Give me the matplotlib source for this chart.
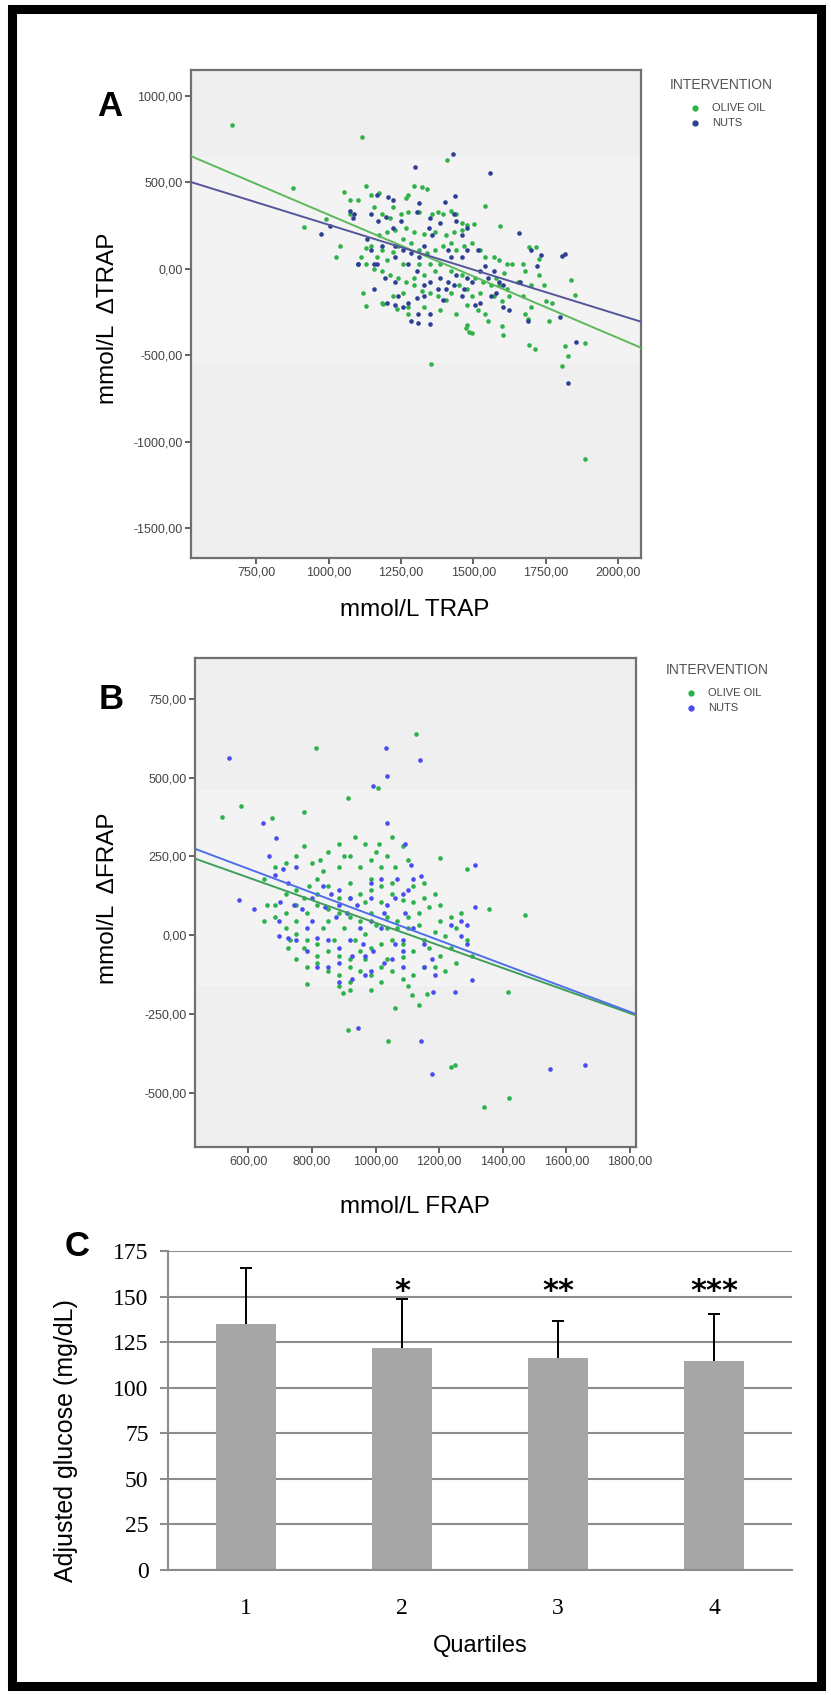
import numpy as np
import matplotlib.pyplot as plt
from matplotlib.lines import Line2D
from matplotlib.patches import Rectangle

# ---- datos: panel A (TRAP basal vs cambio) ----
trap_olive = np.array([
    (665, 830), (1115, 760), (1410, 630), (875, 465), (1053, 444), (913, 242), (1025, 69),
    (1120, -137), (1130, -215), (1188, -202), (1236, -231), (1354, -553), (1475, -342),
    (1484, -363), (1603, -384), (1693, -441), (1713, -466), (1808, -559), (1826, -503),
    (1885, -1100), (1886, -429), (1838, -64), (1851, -153), (1717, 125), (1693, 125),
    (1539, 362), (1594, 250), (1726, 55), (1752, -188), (1763, -301), (1689, -291),
    (1817, -446), (1038, 131), (1111, 69), (1075, 316), (992, 286),
    (1075, 399), (1102, 399), (1130, 481), (1148, 430), (1175, 440), (1157, 358), (1185, 316),
    (1212, 296), (1221, 358), (1249, 316), (1267, 409), (1276, 430), (1295, 481), (1322, 471),
    (1341, 461), (1273, 327), (1313, 327), (1359, 316), (1377, 327), (1396, 316), (1423, 337),
    (1441, 316), (1460, 265), (1478, 255), (1502, 259), (1460, 224), (1432, 213), (1405, 193),
    (1368, 213), (1331, 203), (1295, 213), (1267, 234), (1230, 224), (1203, 213), (1175, 193),
    (1148, 131), (1130, 121), (1185, 110), (1221, 100), (1240, 131), (1258, 172), (1286, 152),
    (1313, 110), (1341, 90), (1368, 110), (1396, 131), (1423, 152), (1441, 110), (1469, 131),
    (1497, 152), (1524, 110), (1542, 69), (1570, 69), (1588, 49), (1616, 28), (1634, 28),
    (1607, -23), (1579, -54), (1561, -95), (1588, -95), (1616, -116), (1625, -157), (1598, -188),
    (1570, -157), (1524, -137), (1497, -157), (1478, -116), (1451, -95), (1423, -137),
    (1405, -178), (1377, -157), (1350, -137), (1322, -126), (1295, -95), (1267, -75),
    (1240, -54), (1212, -34), (1185, -13), (1157, -3), (1130, 28), (1166, 69), (1203, 49),
    (1258, 28), (1313, 28), (1350, 28), (1386, 28), (1368, -13), (1331, -34), (1295, -54),
    (1423, -13), (1460, -34), (1506, -54), (1533, -75), (1258, -137), (1221, -157),
    (1185, -198), (1276, -219), (1331, -219), (1386, -240), (1441, -260), (1515, -240),
    (1542, -260), (1552, -301), (1478, -208), (1276, -260), (1478, -322), (1497, -373),
    (1598, -332), (1653, -75), (1671, -157), (1698, -95), (1680, -13), (1671, 28),
    (1726, -34), (1744, -95), (1772, -198), (1698, -219), (1680, -260),
])
trap_nuts = np.array([
    (1429, 666), (1297, 588), (1557, 557), (974, 203), (1006, 246), (1089, 316), (1133, 172),
    (1102, 28), (1308, -312), (1350, -316), (1658, 207), (1817, 84), (1808, 73), (1799, -281),
    (1854, -421), (1827, -662), (1436, 419), (1401, 388), (1166, 430), (1204, 415),
    (1075, 337), (1084, 296), (1148, 316), (1170, 275), (1199, 300), (1221, 234), (1249, 275),
    (1304, 327), (1346, 234), (1359, 193), (1386, 265), (1432, 316), (1441, 275), (1414, 110),
    (1423, 69), (1460, 69), (1478, 110), (1331, 131), (1313, 69), (1286, 90), (1258, 110),
    (1230, 131), (1185, 131), (1148, 110), (1166, 28), (1230, 69), (1276, 28), (1304, -13),
    (1331, -95), (1350, -75), (1386, -54), (1414, -75), (1441, -34), (1469, -116), (1497, -75),
    (1524, -13), (1542, 18), (1570, -13), (1588, -75), (1579, -137), (1561, -157), (1524, -198),
    (1506, -208), (1460, -157), (1432, -95), (1405, -116), (1377, -116), (1331, -157),
    (1304, -167), (1276, -198), (1240, -157), (1230, -208), (1258, -219), (1203, -198),
    (1230, -75), (1194, -54), (1157, -116), (1157, 28), (1102, 28), (1662, -75), (1698, 110),
    (1735, 80), (1722, 18), (1689, -301), (1625, -240), (1603, -219), (1309, -260),
    (1286, -301), (1350, -260), (1396, -178), (1478, -54), (1552, -54), (1603, -95),
    (1515, 110), (1460, 193), (1478, 234), (1350, 296), (1313, 378), (1221, 399),
])
# rectas de regresion (intercepto, pendiente)
trap_fit_olive = (1025, -0.712)
trap_fit_nuts = (774, -0.519)

# ---- datos: panel B (FRAP basal vs cambio) ----
frap_olive = np.array([
    (1127, 640), (812, 594), (1006, 466), (913, 434), (576, 410), (516, 374), (675, 371),
    (775, 390), (1203, 246), (1286, 210), (1358, 84), (1470, 63), (1417, -180), (1060, -233),
    (1135, -223), (914, -302), (1038, -337), (1236, -418), (1249, -412), (1340, -546),
    (1420, -516), (784, -154), (898, -184), (918, -174), (1115, -190), (1161, -187),
    (650, 179), (683, 216), (717, 228), (750, 252), (775, 283), (800, 228), (826, 240),
    (851, 265), (884, 289), (918, 252), (935, 313), (968, 289), (985, 240), (1010, 289),
    (1052, 313), (1085, 283), (1018, 216), (1060, 216), (1102, 240),
    (717, 130), (750, 143), (775, 118), (817, 130), (851, 155), (884, 118), (918, 118),
    (951, 130), (985, 143), (1018, 155), (1052, 130), (1085, 112), (1119, 106), (1152, 118),
    (1186, 130), (1169, 88), (1135, 70), (1102, 57), (1068, 45), (1035, 57), (985, 70),
    (951, 45), (918, 57), (884, 70), (851, 82), (817, 94), (784, 70), (750, 45), (717, 70),
    (683, 57), (650, 45),
    (717, 21), (750, 3), (784, -16), (817, -28), (851, -52), (884, -65), (918, -77), (951, -52),
    (985, -40), (1018, -28), (1052, -16), (1085, -28), (1119, -52), (1152, -16), (1186, 9),
    (1219, -4), (1253, 21), (1286, -16), (1303, -65), (1253, -89), (1219, -113), (1186, -101),
    (1152, -101), (1119, -126), (1085, -138), (1052, -113), (1018, -101), (985, -126),
    (951, -113), (918, -101), (884, -126), (851, -113), (817, -89), (784, -101), (750, -77),
    (725, -40), (730, -16), (775, -40), (834, 21), (868, -16), (901, 21), (935, -16), (968, 3),
    (1002, 33), (1035, 21), (1068, 21), (1102, 21), (1135, 33), (1203, 45), (1236, 57),
    (1270, 70), (918, -150), (985, -174), (884, -162), (1018, -150), (1102, -162), (1169, -40),
    (1203, -65), (1236, -40), (1085, -71), (1035, -77), (968, -77), (817, -65), (851, 45),
    (683, 94), (658, 94),
    (817, 179), (884, 216), (951, 216), (985, 179), (1052, 167), (918, 167), (1119, 155),
    (1152, 167), (1203, 94), (968, 106), (1018, 106), (750, 94), (792, 155), (834, 204),
    (901, 252), (1035, 252), (1002, 265),
])
frap_nuts = np.array([
    (539, 561), (1032, 594), (1139, 555), (1035, 506), (993, 472), (645, 357), (687, 308),
    (1035, 355), (666, 250), (569, 112), (616, 84), (695, -4), (1313, 224), (1313, 90),
    (1303, -142), (1251, -180), (1182, -180), (946, -294), (1142, -337), (1177, -440),
    (1549, -426), (1660, -413), (1094, 289), (1110, 222), (1144, 189),
    (683, 191), (708, 210), (750, 216), (725, 167), (700, 106), (742, 94), (767, 82),
    (800, 118), (834, 155), (859, 130), (884, 143), (918, 118), (842, 88), (876, 57),
    (909, 70), (943, 94), (985, 118), (1027, 70), (1060, 118), (1085, 130), (1094, 70),
    (1018, 21), (985, 45), (951, 21), (918, -16), (884, -40), (851, -16), (817, -10),
    (784, 21), (750, -16), (817, -101), (851, -101), (884, -89), (926, -65), (960, -28),
    (993, -52), (1027, -89), (1060, -28), (1085, -16), (1119, 21), (1152, -28), (1177, -77),
    (1186, -126), (1152, -101), (1085, -52), (1052, -77), (985, -113), (926, -138),
    (968, -65), (725, -10), (697, 45), (800, 45), (884, 94), (985, 167), (1018, 179),
    (1068, 179), (1102, 143), (1119, 179), (1035, 94), (1286, -28), (1270, -4), (1236, 33),
    (1270, 45), (1286, 33), (884, -150), (968, -126), (1085, -101), (784, -52),
])
frap_fit_olive = (398, -0.359)
frap_fit_nuts = (437.5, -0.3785)

# ---- datos: panel C (glucosa por cuartiles) ----
quartiles = [1, 2, 3, 4]
glucose_mean = [135, 121.6, 116.5, 114.6]
glucose_err = [30.4, 26.8, 20.2, 25.6]
significance = ['', '*', '**', '***']

W, H = 831, 1695
fig = plt.figure(figsize=(W / 100, H / 100), dpi=100)


def caja(l, t, r, b):
    """rectangulo en pixeles -> coordenadas de figura"""
    return [l / W, 1 - b / H, (r - l) / W, (b - t) / H]


def texto(x, y, s, **kw):
    fig.text(x / W, 1 - y / H, s, **kw)


def estilo_spss(ax, xticks, yticks):
    ax.set_facecolor('#efefef')
    for sp in ax.spines.values():
        sp.set_color('#707070')
        sp.set_linewidth(1.6)
    ax.set_xticks(xticks)
    ax.set_yticks(yticks)
    ax.set_xticklabels([f'{v:.2f}'.replace('.', ',') for v in xticks])
    ax.set_yticklabels([f'{v:.2f}'.replace('.', ',') for v in yticks])
    ax.tick_params(direction='out', length=4, width=1.3, color='#555555',
                   labelsize=9, labelcolor='#444444', pad=2)
    for lab in ax.get_xticklabels() + ax.get_yticklabels():
        lab.set_fontfamily('Liberation Sans')


def leyenda(x, y, c_olive, c_nuts):
    texto(x, y, 'INTERVENTION', fontsize=10, color='#555555',
          family='Liberation Sans', va='center')
    for dy, c, lab in [(23, c_olive, 'OLIVE OIL'), (38, c_nuts, 'NUTS')]:
        fig.add_artist(Line2D([(x + 25) / W], [1 - (y + dy) / H], marker='o',
                              markersize=3.5, color=c, transform=fig.transFigure))
        texto(x + 42, y + dy, lab, fontsize=8, color='#444444',
              family='Liberation Sans', va='center')


# ---------------- Panel A ----------------
axA = fig.add_axes(caja(191, 70, 641, 558))
estilo_spss(axA, [750, 1000, 1250, 1500, 1750, 2000], [-1500, -1000, -500, 0, 500, 1000])
axA.set_xlim(524, 2080)
axA.set_ylim(-1672, 1150)
axA.axhspan(-547, 648, color='white', alpha=0.3, zorder=0.5, lw=0)
green_a, blue_a = '#2fb24a', '#2d3f92'
axA.scatter(trap_olive[:, 0], trap_olive[:, 1], s=11, color=green_a, lw=0, zorder=2)
axA.scatter(trap_nuts[:, 0], trap_nuts[:, 1], s=11, color=blue_a, lw=0, zorder=2)
xx = np.array(axA.get_xlim())
axA.plot(xx, trap_fit_olive[0] + trap_fit_olive[1] * xx, color='#5cb85c', lw=1.4, zorder=3)
axA.plot(xx, trap_fit_nuts[0] + trap_fit_nuts[1] * xx, color='#55569a', lw=1.4, zorder=3)
axA.set_xlim(524, 2080)
texto(110, 106, 'A', fontsize=25, fontweight='bold', family='Liberation Sans',
      ha='center', va='center')
texto(108, 318, 'mmol/L  \u0394TRAP', fontsize=17.5, rotation=90, family='Liberation Sans',
      ha='center', va='center')
texto(415, 610, 'mmol/L TRAP', fontsize=17.5, family='Liberation Sans',
      ha='center', va='center')
leyenda(670, 85, green_a, blue_a)

# ---------------- Panel B ----------------
axB = fig.add_axes(caja(195, 658, 636, 1147))
estilo_spss(axB, [600, 800, 1000, 1200, 1400, 1600, 1800], [-500, -250, 0, 250, 500, 750])
axB.set_xlim(432, 1819)
axB.set_ylim(-673, 880)
axB.axhspan(-161, 460, color='white', alpha=0.25, zorder=0.5, lw=0)
green_b, blue_b = '#2bb24c', '#4b4cf0'
axB.scatter(frap_olive[:, 0], frap_olive[:, 1], s=11, color=green_b, lw=0, zorder=2)
axB.scatter(frap_nuts[:, 0], frap_nuts[:, 1], s=11, color=blue_b, lw=0, zorder=2)
xx = np.array(axB.get_xlim())
axB.plot(xx, frap_fit_olive[0] + frap_fit_olive[1] * xx, color='#3f9e5a', lw=1.4, zorder=3)
axB.plot(xx, frap_fit_nuts[0] + frap_fit_nuts[1] * xx, color='#4f6fe8', lw=1.4, zorder=3)
axB.set_xlim(432, 1819)
texto(111, 699, 'B', fontsize=25, fontweight='bold', family='Liberation Sans',
      ha='center', va='center')
texto(108, 898, 'mmol/L  \u0394FRAP', fontsize=17.5, rotation=90, family='Liberation Sans',
      ha='center', va='center')
texto(415, 1207, 'mmol/L FRAP', fontsize=17.5, family='Liberation Sans',
      ha='center', va='center')
leyenda(666, 670, green_b, blue_b)

# ---------------- Panel C ----------------
axC = fig.add_axes(caja(168, 1251, 792, 1570))
axC.bar(quartiles, glucose_mean, width=0.39, color='#a6a6a6', zorder=2)
eb = axC.errorbar(quartiles, glucose_mean, yerr=[np.zeros(4), glucose_err], fmt='none',
                  ecolor='black', elinewidth=1.4, capsize=4, capthick=1.4, zorder=3)
eb[1][0].set_visible(False)  # sin tapa inferior
for q, s in zip(quartiles, significance):
    if s:
        axC.text(q, 148, s, ha='center', va='baseline', fontsize=22,
                 fontweight='bold', family='DejaVu Sans')
axC.set_xlim(0.5, 4.5)
axC.set_ylim(0, 175)
axC.set_yticks(np.arange(0, 176, 25))
axC.set_xticks(quartiles)
axC.grid(axis='y', color='#8c8c8c', lw=1.5, zorder=0)
axC.set_axisbelow(True)
for side in ['top', 'right']:
    axC.spines[side].set_visible(False)
for side in ['left', 'bottom']:
    axC.spines[side].set_color('#8c8c8c')
    axC.spines[side].set_linewidth(1.5)
axC.tick_params(axis='y', direction='out', length=6, width=1.5, color='#8c8c8c', pad=8)
axC.tick_params(axis='x', length=0, pad=20)
for lab in axC.get_xticklabels() + axC.get_yticklabels():
    lab.set_fontfamily('Liberation Serif')
    lab.set_fontsize(17)
texto(77, 1247, 'C', fontsize=25, fontweight='bold', family='Liberation Sans',
      ha='center', va='center')
texto(66, 1441, 'Adjusted glucose (mg/dL)', fontsize=18, rotation=90,
      family='Liberation Sans', ha='center', va='center')
texto(480, 1646, 'Quartiles', fontsize=17, family='Liberation Sans',
      ha='center', va='center')

# marco negro
fig.add_artist(Rectangle((12 / W, 9 / H), (821 - 12) / W, (1686 - 9) / H,
                         transform=fig.transFigure, fill=False, lw=6.5, ec='black'))

fig.savefig('out.png', dpi=100)
